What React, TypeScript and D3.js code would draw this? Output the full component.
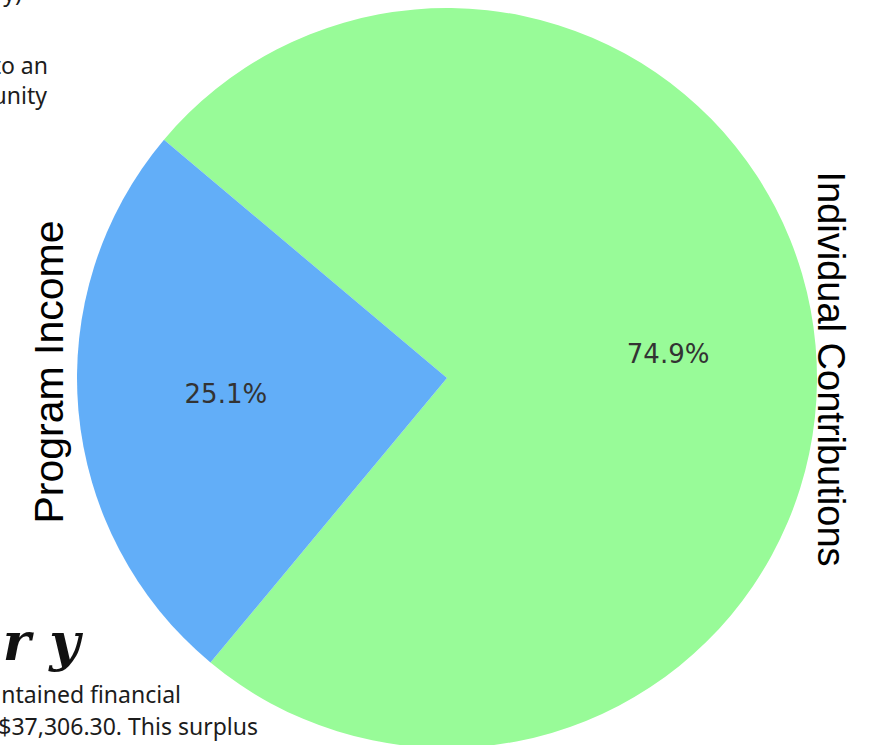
import React from "react";
import * as d3 from "d3";

const categories = ["Individual Contributions", "Program Income"];
const values = [74.9, 25.1];
const colors = ["#98fb98", "#62aef8"];

const W = 886;
const H = 745;

export default function App() {
  const cx = 447;
  const cy = 378;
  const r = 370;
  const startDeg = -49.9;
  const toRad = (d: number) => (d * Math.PI) / 180;

  const pie = d3
    .pie<number>()
    .sort(null)
    .startAngle(toRad(startDeg))
    .endAngle(toRad(startDeg + 360));
  const arcs = pie(values);
  const arc = d3.arc<d3.PieArcDatum<number>>().innerRadius(0).outerRadius(r);
  const total = d3.sum(values);
  const fmt = d3.format(".1f");

  const pctR = r * 0.6;

  return (
    <svg
      width={W}
      height={H}
      style={{ position: "absolute", left: 0, top: 0, background: "#ffffff" }}
    >
      <rect x={0} y={0} width={W} height={H} fill="#ffffff" />
      {/* background document fragments */}
      <g fontFamily="'Noto Sans', sans-serif" fontSize={23} fill="#1c1c1c">
        <text x={22} y={1} textAnchor="end">y)</text>
        <text x={48} y={74} textAnchor="end">to an</text>
        <text x={47} y={104} textAnchor="end">unity</text>
        <text x={181} y={703} textAnchor="end">ntained financial</text>
        <text x={258} y={735} textAnchor="end">$37,306.30. This surplus</text>
      </g>
      <text
        x={80}
        y={660}
        textAnchor="end"
        fontFamily="'DejaVu Serif', serif"
        fontWeight="bold"
        fontStyle="italic"
        fontSize={53}
        fill="#111"
      >
        r y
      </text>

      <g transform={`translate(${cx},${cy})`}>
        {arcs.map((a, i) => (
          <path key={categories[i]} d={arc(a) || ""} fill={colors[i]} />
        ))}
        {arcs.map((a, i) => {
          const mid = (a.startAngle + a.endAngle) / 2;
          const x = pctR * Math.sin(mid);
          const y = -pctR * Math.cos(mid);
          return (
            <text
              key={"p" + i}
              x={x}
              y={y}
              dy={-4}
              dominantBaseline="central"
              textAnchor="middle"
              fontFamily="'DejaVu Sans', sans-serif"
              fontSize={26}
              fill="#333333"
            >
              {fmt((values[i] / total) * 100)}%
            </text>
          );
        })}
      </g>

      {/* outer labels */}
      <text
        transform={`translate(${cx - r * 1.038},${cy - 6}) rotate(-90)`}
        textAnchor="middle"
        fontFamily="'Liberation Sans', Arial, sans-serif"
        fontSize={41}
        fill="#000"
      >
        {categories[1]}
      </text>
      <text
        transform={`translate(${cx + r * 1.003},${cy - 9}) rotate(90)`}
        textAnchor="middle"
        fontFamily="'Liberation Sans', Arial, sans-serif"
        fontSize={38}
        fill="#000"
      >
        {categories[0]}
      </text>
    </svg>
  );
}
